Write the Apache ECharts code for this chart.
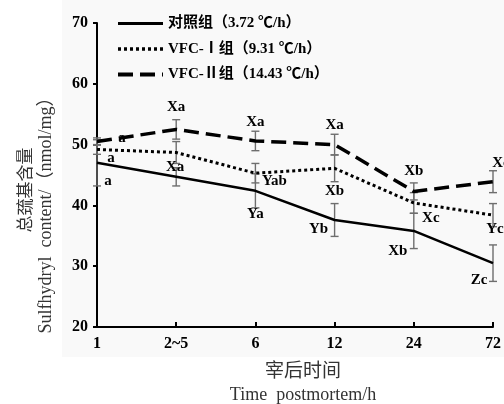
<!DOCTYPE html>
<html>
<head>
<meta charset="utf-8">
<script src="https://cdn.jsdelivr.net/npm/echarts@6/dist/echarts.min.js"></script>
<style>html,body{margin:0;padding:0;background:#fff}#c{width:504px;height:404px}</style>
</head>
<body>
<div id="c"></div>
<script>
const categories = ['1', '2~5', '6', '12', '24', '72'];
const yTicks = [20, 30, 40, 50, 60, 70];
const seriesNames = ['对照组（3.72 ℃/h）', 'VFC-Ⅰ组（9.31 ℃/h）', 'VFC-Ⅱ组（14.43 ℃/h）'];
const controlValues = [47.0, 44.7, 42.4, 37.6, 35.8, 30.5];
const vfc1Values = [49.2, 48.7, 45.3, 46.1, 40.4, 38.4];
const vfc2Values = [50.5, 52.5, 50.6, 50.0, 42.3, 43.9];
const controlErrors = [3.8, 1.5, 2.8, 2.7, 2.9, 3.0];
const vfc1Errors = [0.8, 1.8, 1.6, 2.2, 1.7, 1.9];
const vfc2Errors = [0.6, 1.6, 1.6, 1.7, 1.4, 1.8];
const controlLetters = ['a', '', 'Ya', 'Yb', 'Xb', 'Zc'];
const vfc1Letters = ['a', 'Xa', 'Yab', 'Xb', 'Xc', 'Yc'];
const vfc2Letters = ['a', 'Xa', 'Xa', 'Xa', 'Xb', 'Xc'];

const serif = '"Liberation Serif", "Times New Roman", "Noto Sans CJK SC", serif';
const chart = echarts.init(document.getElementById('c'), null, {renderer: 'canvas'});

function errData(vals, errs) {
  return vals.map((v, i) => [i, v - errs[i], v + errs[i]]);
}
function errSeries(vals, errs) {
  return {
    type: 'custom', z: 1, silent: true,
    data: errData(vals, errs),
    encode: {x: 0, y: [1, 2]},
    renderItem: function (params, api) {
      const lo = api.coord([api.value(0), api.value(1)]);
      const hi = api.coord([api.value(0), api.value(2)]);
      const w = 4;
      const st = {stroke: '#6e6e6e', lineWidth: 1.4};
      return {type: 'group', children: [
        {type: 'line', shape: {x1: lo[0], y1: lo[1], x2: hi[0], y2: hi[1]}, style: st},
        {type: 'line', shape: {x1: lo[0] - w, y1: lo[1], x2: lo[0] + w, y2: lo[1]}, style: st},
        {type: 'line', shape: {x1: hi[0] - w, y1: hi[1], x2: hi[0] + w, y2: hi[1]}, style: st}
      ]};
    }
  };
}
function letterSeries(vals, letters, offsets) {
  return {
    type: 'custom', z: 5, silent: true,
    data: vals.map((v, i) => [i, v]),
    encode: {x: 0, y: 1},
    renderItem: function (params, api) {
      const i = params.dataIndex;
      const p = api.coord([api.value(0), api.value(1)]);
      return {type: 'text', x: p[0] + offsets[i][0], y: p[1] + offsets[i][1],
        style: {text: letters[i], font: 'bold 15px ' + serif, fill: '#000',
          textAlign: 'center', textVerticalAlign: 'middle'}};
    }
  };
}
const lineBase = {type: 'line', symbol: 'none', z: 3, silent: true};

chart.setOption({
  animation: false,
  backgroundColor: '#fff',
  grid: {left: 97, right: 4, top: 23, bottom: 77},
  graphic: [
    {type: 'rect', z: -10, shape: {x: 62, y: 0, width: 442, height: 357}, style: {fill: '#f9f9f9'}},
    {type: 'text', rotation: Math.PI / 2, position: [25, 190],
      style: {text: '总巯基含量', font: '17px "Noto Sans CJK SC"', fill: '#333', textAlign: 'center', textVerticalAlign: 'middle'}},
    {type: 'text', rotation: Math.PI / 2, position: [46, 211],
      style: {text: 'Sulfhydryl  content/（nmol/mg）', font: '18px ' + serif, fill: '#333', textAlign: 'center', textVerticalAlign: 'middle'}},
    {type: 'text', position: [303, 370],
      style: {text: '宰后时间', font: '19px "Noto Sans CJK SC"', fill: '#333', textAlign: 'center', textVerticalAlign: 'middle'}},
    {type: 'text', position: [303, 395],
      style: {text: 'Time  postmortem/h', font: '18px ' + serif, fill: '#333', textAlign: 'center', textVerticalAlign: 'middle'}}
  ],
  legend: {
    orient: 'vertical', left: 116, top: 16, padding: 0,
    itemWidth: 45, itemHeight: 14, itemGap: 10.5,
    data: [
      {name: seriesNames[0], lineStyle: {width: 3}},
      {name: seriesNames[1], lineStyle: {width: 3.5}},
      {name: seriesNames[2], lineStyle: {width: 4}}
    ],
    itemStyle: {opacity: 0},
    textStyle: {fontFamily: serif, fontWeight: 'bold', fontSize: 15, color: '#000'}
  },
  xAxis: {
    type: 'category', data: categories, boundaryGap: false,
    axisLine: {lineStyle: {color: '#000', width: 2}},
    axisTick: {inside: true, length: 5, lineStyle: {color: '#000', width: 2}},
    axisLabel: {margin: 9, color: '#000', fontFamily: serif, fontWeight: 'bold', fontSize: 16}
  },
  yAxis: {
    type: 'value', min: yTicks[0], max: yTicks[yTicks.length - 1], interval: 10,
    axisLine: {show: true, lineStyle: {color: '#000', width: 2}},
    axisTick: {show: true, length: 4, lineStyle: {color: '#000', width: 2}},
    splitLine: {show: false},
    axisLabel: {margin: 9, color: '#000', fontFamily: serif, fontWeight: 'bold', fontSize: 16}
  },
  series: [
    errSeries(controlValues, controlErrors),
    errSeries(vfc1Values, vfc1Errors),
    errSeries(vfc2Values, vfc2Errors),
    Object.assign({}, lineBase, {name: seriesNames[0], data: controlValues,
      itemStyle: {color: '#000'}, lineStyle: {color: '#000', width: 2.5, type: 'solid'}}),
    Object.assign({}, lineBase, {name: seriesNames[1], data: vfc1Values,
      itemStyle: {color: '#000'}, lineStyle: {color: '#000', width: 3, type: [3, 3]}}),
    Object.assign({}, lineBase, {name: seriesNames[2], data: vfc2Values,
      itemStyle: {color: '#000'}, lineStyle: {color: '#000', width: 3.5, type: [15, 7]}}),
    letterSeries(controlValues, controlLetters, [[11, 18], [0, 0], [0, 23], [-16, 9], [-16, 20], [-14, 17]]),
    letterSeries(vfc1Values, vfc1Letters, [[14, 9], [-1, 15], [19, 8], [0, 23], [17, 15], [2, 14]]),
    letterSeries(vfc2Values, vfc2Letters, [[25, -3], [0, -22], [0, -19], [0, -19], [0, -20], [8, -19]])
  ]
});
</script>
</body>
</html>
